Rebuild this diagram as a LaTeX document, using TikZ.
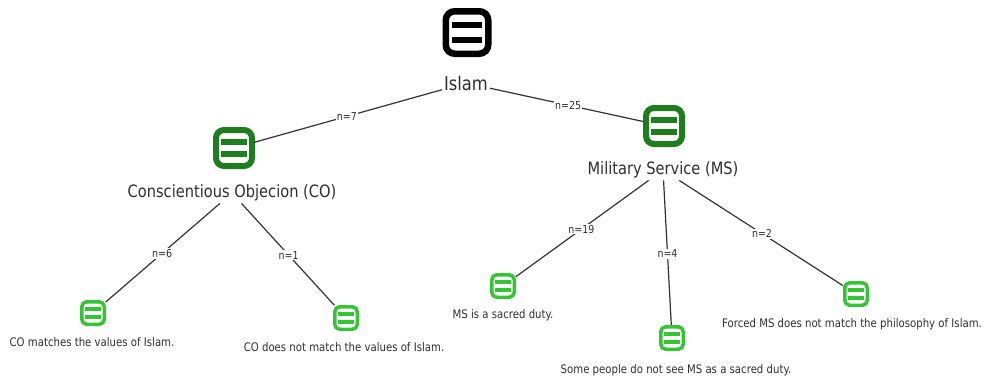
\documentclass[tikz,border=0pt]{standalone}
\usepackage{fontspec}
\setmainfont{DejaVu Sans}[FakeStretch=0.86]

\definecolor{inkgray}{HTML}{2E2E2E}
\definecolor{linegray}{HTML}{333333}
\definecolor{darkleaf}{HTML}{1E7E1E}
\definecolor{brightleaf}{HTML}{34C434}

\tikzset{
  % rounded document icon with two bars:
  % #1 size, #2 border width, #3 corner radius, #4 bar half width,
  % #5 bar half height, #6 bar offset from centre, #7 colour
  docicon/.style n args={7}{
    draw=#7, line width=#2, fill=white, inner sep=0pt, outer sep=0pt,
    minimum width=#1, minimum height=#1, rounded corners=#3,
    path picture={
      \fill[#7, sharp corners]
        ([shift={(-#4,-#6-#5)}]path picture bounding box.center) rectangle
        ([shift={(#4,-#6+#5)}]path picture bounding box.center);
      \fill[#7, sharp corners]
        ([shift={(-#4,#6-#5)}]path picture bounding box.center) rectangle
        ([shift={(#4,#6+#5)}]path picture bounding box.center);
    }},
  bigdoc/.style={docicon={42.5pt}{6.5pt}{9pt}{15}{3}{7.5}{black}},
  middoc/.style={docicon={36pt}{6pt}{8pt}{13}{3}{6}{darkleaf}},
  smalldoc/.style={docicon={22.5pt}{3.5pt}{5pt}{8}{1.8}{3.8}{brightleaf}},
  head/.style={text=inkgray, font=\fontsize{17}{20}\selectfont, inner sep=2pt},
  roothead/.style={head, font=\fontsize{19}{22}\selectfont},
  leaftext/.style={text=inkgray, font=\fontsize{11.8}{14}\selectfont, inner sep=1pt},
  edge/.style={draw=linegray, line width=1.2pt, shorten >=2pt},
  count/.style={fill=white, text=inkgray, font=\fontsize{11}{13}\selectfont, inner sep=1pt}
}

\begin{document}
\begin{tikzpicture}[x=1pt, y=-1pt]
  \useasboundingbox[fill=white] (0,0) rectangle (984,381);

  % root
  \node[bigdoc] (islamicon) at (467,32.5) {};
  \node[roothead] (islam) at (466,83) {Islam};

  % first level
  \node[middoc] (coicon) at (234,148) {};
  \node[head] (co) at (232,193) {Conscientious Objecion (CO)};
  \node[middoc] (msicon) at (664,126) {};
  \node[head] (ms) at (663,170) {Military Service (MS)};

  % leaves under CO
  \node[smalldoc] (co1icon) at (93,313) {};
  \node[leaftext] (co1) at (92,342) {CO matches the values of Islam.};
  \node[smalldoc] (co2icon) at (346,318) {};
  \node[leaftext] (co2) at (344,347) {CO does not match the values of Islam.};

  % leaves under MS
  \node[smalldoc] (ms1icon) at (503,286) {};
  \node[leaftext] (ms1) at (503,315) {MS is a sacred duty.};
  \node[smalldoc] (ms2icon) at (672,338) {};
  \node[leaftext] (ms2) at (676,370) {Some people do not see MS as a sacred duty.};
  \node[smalldoc] (ms3icon) at (856,294) {};
  \node[leaftext] (ms3) at (852,324) {Forced MS does not match the philosophy of Islam.};

  % connectors with counts
  \draw[edge] (islam) -- node[count] {n=7} (coicon);
  \draw[edge] (islam) -- node[count] {n=25} (msicon);
  \draw[edge] (co) -- node[count] {n=6} (co1icon);
  \draw[edge] (co) -- node[count] {n=1} (co2icon);
  \draw[edge] (ms) -- node[count] {n=19} (ms1icon);
  \draw[edge] (ms) -- node[count] {n=4} (ms2icon);
  \draw[edge] (ms) -- node[count] {n=2} (ms3icon);
\end{tikzpicture}
\end{document}
